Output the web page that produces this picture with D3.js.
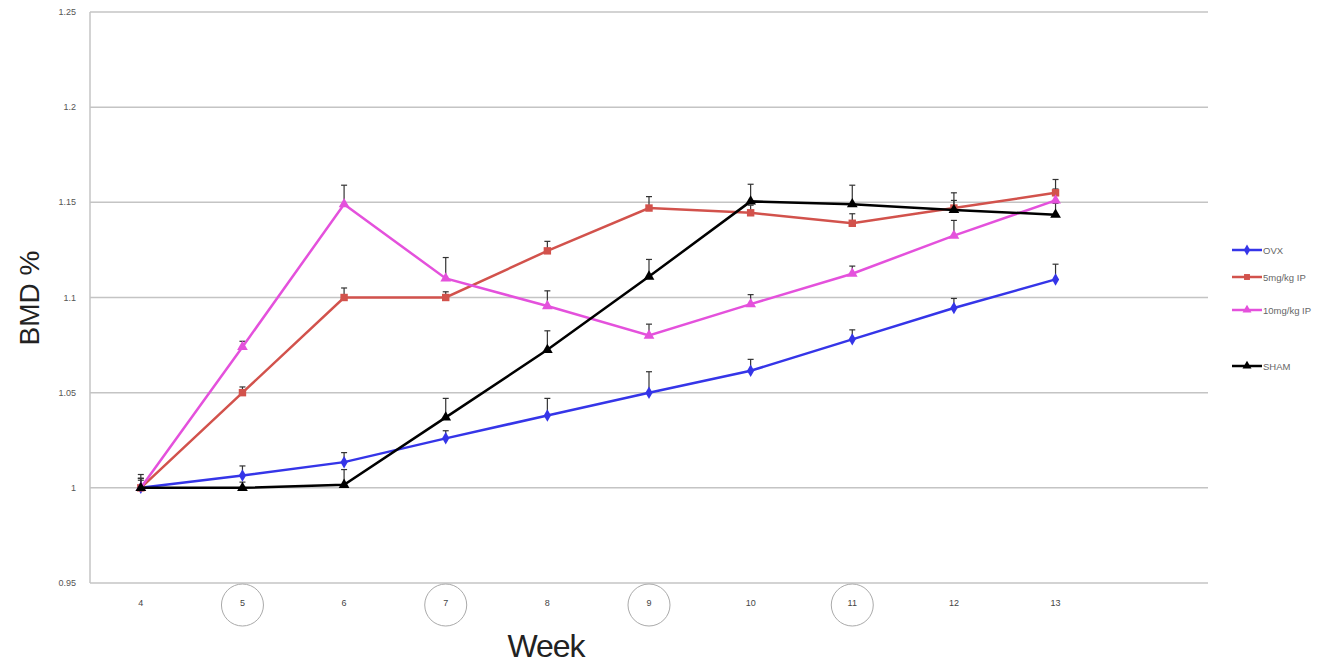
<!DOCTYPE html>
<html>
<head>
<meta charset="utf-8">
<title>BMD % by week</title>
<script src="https://cdn.jsdelivr.net/npm/d3@7"></script>
<style>
body { margin: 0; background: #fff; }
svg { display: block; font-family: "Liberation Sans", Arial, sans-serif; }
</style>
</head>
<body>
<div id="chart"></div>
<script>
// weeks along the x axis (an empty 14th slot sits at the right, as in the original)
const weeks = [4, 5, 6, 7, 8, 9, 10, 11, 12, 13];
const circledWeeks = [5, 7, 9, 11];
const yTicks = [0.95, 1, 1.05, 1.1, 1.15, 1.2, 1.25];

const ovx      = [1.000, 1.0065, 1.0135, 1.026, 1.038, 1.050, 1.0615, 1.078, 1.0945, 1.1095];
const ovxErr   = [0.005, 0.005, 0.005, 0.004, 0.009, 0.011, 0.006, 0.005, 0.005, 0.008];
const ip5      = [1.000, 1.050, 1.100, 1.100, 1.1245, 1.147, 1.1445, 1.139, 1.147, 1.155];
const ip5Err   = [0.004, 0.003, 0.005, 0.003, 0.005, 0.006, 0.004, 0.005, 0.004, 0.007];
const ip10     = [1.000, 1.074, 1.149, 1.110, 1.0955, 1.080, 1.0965, 1.1125, 1.1325, 1.151];
const ip10Err  = [0.005, 0.003, 0.010, 0.011, 0.008, 0.006, 0.005, 0.004, 0.008, 0.006];
const sham     = [1.000, 1.000, 1.0016, 1.037, 1.0725, 1.111, 1.1505, 1.149, 1.146, 1.1435];
const shamErr  = [0.007, 0.003, 0.008, 0.010, 0.010, 0.009, 0.009, 0.010, 0.009, 0.006];

const series = [
  {name: "OVX",        vals: ovx,  err: ovxErr,  color: "#3535e8", sym: d3.symbolDiamond,  size: 45, legendY: 250},
  {name: "5mg/kg IP",  vals: ip5,  err: ip5Err,  color: "#d2524c", sym: d3.symbolSquare,   size: 55, legendY: 277},
  {name: "10mg/kg IP", vals: ip10, err: ip10Err, color: "#e451dc", sym: d3.symbolTriangle, size: 50, legendY: 310},
  {name: "SHAM",       vals: sham, err: shamErr, color: "#000000", sym: d3.symbolTriangle, size: 50, legendY: 366}
];

const W = 1343, H = 665;
const m = {left: 90, right: 1208, top: 12, bottom: 583};

const svg = d3.select("#chart").append("svg")
    .attr("width", W)
    .attr("height", H);

const x = d3.scaleLinear().domain([3.5, 14.5]).range([m.left, m.right]);
const y = d3.scaleLinear().domain([0.95, 1.25]).range([m.bottom, m.top]);

// gridlines
svg.append("g")
  .selectAll("line")
  .data(yTicks)
  .join("line")
    .attr("x1", m.left).attr("x2", m.right)
    .attr("y1", d => y(d)).attr("y2", d => y(d))
    .attr("stroke", "#c4c4c4")
    .attr("stroke-width", 1.5);

// left axis line
svg.append("line")
    .attr("x1", m.left).attr("x2", m.left)
    .attr("y1", m.top).attr("y2", m.bottom)
    .attr("stroke", "#c4c4c4")
    .attr("stroke-width", 1.5);

// y tick labels
svg.append("g")
  .selectAll("text")
  .data(yTicks)
  .join("text")
    .attr("x", 76)
    .attr("y", d => y(d) + 3)
    .attr("text-anchor", "end")
    .attr("font-size", 9)
    .attr("fill", "#555")
    .text(d => +d.toFixed(2));

// x tick labels
svg.append("g")
  .selectAll("text")
  .data(weeks)
  .join("text")
    .attr("x", d => x(d))
    .attr("y", 606)
    .attr("text-anchor", "middle")
    .attr("font-size", 9)
    .attr("fill", "#444")
    .text(d => d);

// hand-drawn circles round some week labels
svg.append("g")
  .selectAll("circle")
  .data(circledWeeks)
  .join("circle")
    .attr("cx", d => x(d))
    .attr("cy", 605)
    .attr("r", 21)
    .attr("fill", "none")
    .attr("stroke", "#aaa")
    .attr("stroke-width", 1);

// axis titles
svg.append("text")
    .attr("x", 546)
    .attr("y", 657)
    .attr("text-anchor", "middle")
    .attr("font-size", 32)
    .attr("fill", "#222")
    .attr("letter-spacing", -1)
    .text("Week");

svg.append("text")
    .attr("transform", "translate(39,298) rotate(-90)")
    .attr("text-anchor", "middle")
    .attr("font-size", 28)
    .attr("fill", "#222")
    .text("BMD %");

// error bars (upper side, black caps)
const eb = svg.append("g");
series.forEach(s => {
  const pts = weeks.map((w, i) => ({w, v: s.vals[i], e: s.err[i]}));
  const g = eb.append("g").attr("stroke", "#333").attr("stroke-width", 1.2);
  g.selectAll("line.v").data(pts).join("line").attr("class", "v")
      .attr("x1", d => x(d.w)).attr("x2", d => x(d.w))
      .attr("y1", d => y(d.v)).attr("y2", d => y(d.v + d.e));
  g.selectAll("line.c").data(pts).join("line").attr("class", "c")
      .attr("x1", d => x(d.w) - 3).attr("x2", d => x(d.w) + 3)
      .attr("y1", d => y(d.v + d.e)).attr("y2", d => y(d.v + d.e));
});

// lines and markers
const line = d3.line().x(d => x(d.w)).y(d => y(d.v));
series.forEach(s => {
  const pts = weeks.map((w, i) => ({w, v: s.vals[i]}));
  svg.append("path")
      .datum(pts)
      .attr("fill", "none")
      .attr("stroke", s.color)
      .attr("stroke-width", 2.5)
      .attr("d", line);
  svg.append("g")
    .selectAll("path")
    .data(pts)
    .join("path")
      .attr("transform", d => `translate(${x(d.w)},${y(d.v)})`)
      .attr("d", d3.symbol().type(s.sym).size(s.size))
      .attr("fill", s.color);
});

// legend
const lg = svg.append("g");
series.forEach(s => {
  lg.append("line")
      .attr("x1", 1232).attr("x2", 1262)
      .attr("y1", s.legendY).attr("y2", s.legendY)
      .attr("stroke", s.color)
      .attr("stroke-width", 2.5);
  lg.append("path")
      .attr("transform", `translate(1247,${s.legendY})`)
      .attr("d", d3.symbol().type(s.sym).size(35))
      .attr("fill", s.color);
  lg.append("text")
      .attr("x", 1263)
      .attr("y", s.legendY + 3.5)
      .attr("font-size", 9.5)
      .attr("fill", "#666")
      .text(s.name);
});
</script>
</body>
</html>
